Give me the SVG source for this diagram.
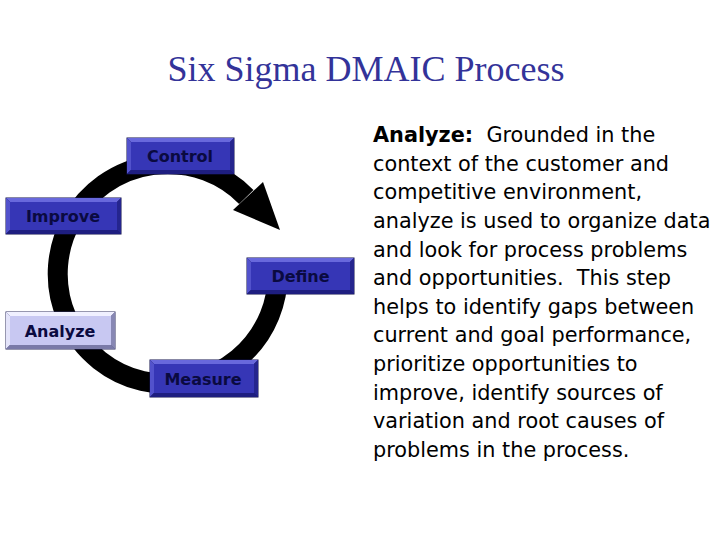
<svg xmlns="http://www.w3.org/2000/svg" width="720" height="540" viewBox="0 0 720 540">
<style>
.title{font-family:"Liberation Serif","Times New Roman",serif;font-size:36px;fill:#333399}
.body{font-family:"DejaVu Sans",Verdana,sans-serif;font-size:20.8px;fill:#000;white-space:pre}
.lbl{font-family:"DejaVu Sans",Verdana,sans-serif;font-weight:bold;font-size:16px;fill:#0a0a40;text-anchor:middle}
.edge{fill:#15155a;stroke:#10104a;stroke-width:1}
.bt{fill:#6868dc}.bl{fill:#5252cc}.bb{fill:#1e1e80}.br{fill:#25258e}.face{fill:#3636b6}
.lt .bt{fill:#f0f0ff}.lt .bl{fill:#e4e4fa}.lt .bb{fill:#7a7aa8}.lt .br{fill:#8888b4}.lt .face{fill:#c8c8f2}.lt .edge{fill:#4a4a7a;stroke:#303060}
.ring{fill:none;stroke:#000;stroke-width:20}
</style>
<rect width="720" height="540" fill="#fff"/>
<text class="title" x="366" y="81" text-anchor="middle">Six Sigma DMAIC Process</text>

<g id="connectors">
<path class="ring" d="M277.58,268.41 A110,110 0 1 1 246.3,197"/>
<polygon points="233,210 263,182 280,230" fill="#000"/>
</g>

<g id="control" transform="translate(127,138)">
<rect class="edge" x="0" y="0" width="107" height="36"/>
<polygon class="bt" points="0,0 107,0 103,4 4,4"/>
<polygon class="bl" points="0,0 4,4 4,32 0,36"/>
<polygon class="bb" points="0,36 4,32 103,32 107,36"/>
<polygon class="br" points="107,0 107,36 103,32 103,4"/>
<rect class="face" x="4" y="4" width="99" height="28"/>
<text class="lbl" x="53" y="24">Control</text>
</g>

<g id="improve" transform="translate(6,198)">
<rect class="edge" x="0" y="0" width="115" height="36"/>
<polygon class="bt" points="0,0 115,0 111,4 4,4"/>
<polygon class="bl" points="0,0 4,4 4,32 0,36"/>
<polygon class="bb" points="0,36 4,32 111,32 115,36"/>
<polygon class="br" points="115,0 115,36 111,32 111,4"/>
<rect class="face" x="4" y="4" width="107" height="28"/>
<text class="lbl" x="57" y="24">Improve</text>
</g>

<g id="define" transform="translate(247,258)">
<rect class="edge" x="0" y="0" width="107" height="36"/>
<polygon class="bt" points="0,0 107,0 103,4 4,4"/>
<polygon class="bl" points="0,0 4,4 4,32 0,36"/>
<polygon class="bb" points="0,36 4,32 103,32 107,36"/>
<polygon class="br" points="107,0 107,36 103,32 103,4"/>
<rect class="face" x="4" y="4" width="99" height="28"/>
<text class="lbl" x="53.5" y="24">Define</text>
</g>

<g id="analyze" class="lt" transform="translate(6,312)">
<rect class="edge" x="0" y="0" width="109" height="37"/>
<polygon class="bt" points="0,0 109,0 105,4 4,4"/>
<polygon class="bl" points="0,0 4,4 4,33 0,37"/>
<polygon class="bb" points="0,37 4,33 105,33 109,37"/>
<polygon class="br" points="109,0 109,37 105,33 105,4"/>
<rect class="face" x="4" y="4" width="101" height="29"/>
<text class="lbl" x="54" y="24.5">Analyze</text>
</g>

<g id="measure" transform="translate(150,360)">
<rect class="edge" x="0" y="0" width="108" height="37"/>
<polygon class="bt" points="0,0 108,0 104,4 4,4"/>
<polygon class="bl" points="0,0 4,4 4,33 0,37"/>
<polygon class="bb" points="0,37 4,33 104,33 108,37"/>
<polygon class="br" points="108,0 108,37 104,33 104,4"/>
<rect class="face" x="4" y="4" width="100" height="29"/>
<text class="lbl" x="53" y="24.5">Measure</text>
</g>

<g id="description">
<text class="body" x="373" y="142"><tspan font-weight="bold">Analyze:</tspan>  Grounded in the</text>
<text class="body" x="373" y="170.6">context of the customer and</text>
<text class="body" x="373" y="199.3">competitive environment,</text>
<text class="body" x="373" y="227.9">analyze is used to organize data</text>
<text class="body" x="373" y="256.5">and look for process problems</text>
<text class="body" x="373" y="285.2">and opportunities.  This step</text>
<text class="body" x="373" y="313.8">helps to identify gaps between</text>
<text class="body" x="373" y="342.4">current and goal performance,</text>
<text class="body" x="373" y="371">prioritize opportunities to</text>
<text class="body" x="373" y="399.7">improve, identify sources of</text>
<text class="body" x="373" y="428.3">variation and root causes of</text>
<text class="body" x="373" y="456.9">problems in the process.</text>
</g>
</svg>
